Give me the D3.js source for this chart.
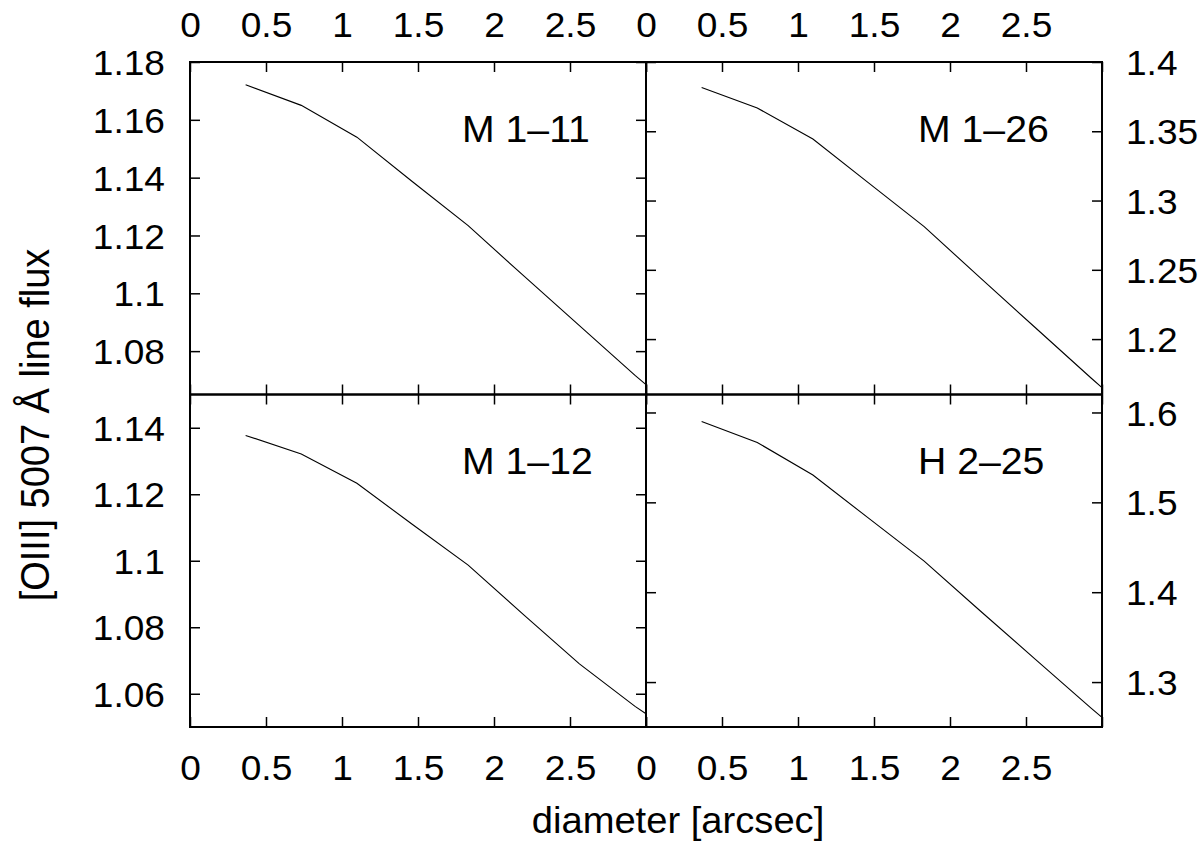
<!DOCTYPE html>
<html>
<head>
<meta charset="utf-8">
<script src="https://cdn.jsdelivr.net/npm/d3@7"></script>
<style>
  body { margin: 0; background: #fff; }
  svg { display: block; }
</style>
</head>
<body>
<div id="chart"></div>
<script>
// diameter values (arcsec) shared by all four objects
var diam = [0.366, 0.732, 1.098, 1.464, 1.830, 2.196, 2.562, 2.928, 3.0];

// [OIII] 5007 line flux, one array per object
var fluxM111 = [1.1721, 1.1650, 1.1540, 1.1386, 1.1234, 1.1060, 1.0888, 1.0716, 1.0684];
var fluxM126 = [1.3816, 1.3668, 1.3444, 1.3128, 1.2812, 1.2445, 1.2082, 1.1719, 1.1649];
var fluxM112 = [1.1377, 1.1321, 1.1233, 1.1109, 1.0987, 1.0837, 1.0690, 1.0562, 1.0540];
var fluxH225 = [1.5900, 1.5666, 1.5304, 1.4824, 1.4346, 1.3796, 1.3253, 1.2711, 1.2607];

var names = ["M 1\u201311", "M 1\u201326", "M 1\u201312", "H 2\u201325"];

// tick values
var xTicks = [0, 0.5, 1, 1.5, 2, 2.5, 3];
var yTicksM111 = [1.08, 1.1, 1.12, 1.14, 1.16, 1.18];
var yTicksM126 = [1.2, 1.25, 1.3, 1.35, 1.4];
var yTicksM112 = [1.06, 1.08, 1.1, 1.12, 1.14];
var yTicksH225 = [1.3, 1.4, 1.5, 1.6];

// y ranges of each panel
var yDomM111 = [1.065, 1.18];
var yDomM126 = [1.16, 1.4];
var yDomM112 = [1.05, 1.15];
var yDomH225 = [1.25, 1.62];

var width = 1200, height = 850;
var FONT = "'Liberation Sans', Arial, Helvetica, sans-serif";
var SX = 1.06;   // slight horizontal stretch of the lettering

var L = 190, Mx = 646, R = 1102, T = 62, My = 394.5, B = 727;

var panels = [
    {name: names[0], vals: fluxM111, dom: yDomM111, ticks: yTicksM111, x0: L, x1: Mx, y0: T, y1: My, side: "left", pos: "top"},
    {name: names[1], vals: fluxM126, dom: yDomM126, ticks: yTicksM126, x0: Mx, x1: R, y0: T, y1: My, side: "right", pos: "top"},
    {name: names[2], vals: fluxM112, dom: yDomM112, ticks: yTicksM112, x0: L, x1: Mx, y0: My, y1: B, side: "left", pos: "bottom"},
    {name: names[3], vals: fluxH225, dom: yDomH225, ticks: yTicksH225, x0: Mx, x1: R, y0: My, y1: B, side: "right", pos: "bottom"}
];

var svg = d3.select("#chart").append("svg")
    .attr("width", width)
    .attr("height", height)
    .style("font-family", FONT);

function styleAxis(g, fontSize) {
    g.attr("font-family", FONT).attr("font-size", fontSize);
    g.select(".domain").remove();
    g.selectAll(".tick line").attr("stroke", "#000").attr("stroke-width", 1.5);
    g.selectAll(".tick text").attr("fill", "#000");
}

var fmtX = function(d) { return d === 3 ? "" : String(d); };
var blank = function() { return ""; };

panels.forEach(function(p) {
    var x = d3.scaleLinear().domain([0, 3]).range([p.x0, p.x1]);
    var y = d3.scaleLinear().domain(p.dom).range([p.y1, p.y0]);

    // top ticks
    var gTop = svg.append("g")
        .attr("transform", "translate(0," + p.y0 + ")")
        .call(d3.axisTop(x).tickValues(xTicks).tickSize(-10).tickSizeOuter(0).tickPadding(25)
            .tickFormat(p.pos === "top" ? fmtX : blank));
    styleAxis(gTop, 35);
    gTop.selectAll(".tick text").attr("transform", "scale(" + SX + ",1)");

    // bottom ticks
    var gBot = svg.append("g")
        .attr("transform", "translate(0," + p.y1 + ")")
        .call(d3.axisBottom(x).tickValues(xTicks).tickSize(-10).tickSizeOuter(0).tickPadding(28)
            .tickFormat(p.pos === "bottom" ? fmtX : blank));
    styleAxis(gBot, 35);
    gBot.selectAll(".tick text").attr("transform", "scale(" + SX + ",1)");

    // left ticks
    var gLeft = svg.append("g")
        .attr("transform", "translate(" + p.x0 + ",0)")
        .call(d3.axisLeft(y).tickValues(p.ticks).tickSize(-10).tickSizeOuter(0).tickPadding(25)
            .tickFormat(p.side === "left" ? String : blank));
    styleAxis(gLeft, 35);
    gLeft.selectAll(".tick text")
        .attr("x", -25 / SX)
        .attr("dy", "0.36em")
        .attr("transform", "scale(" + SX + ",1)");

    // right ticks
    var gRight = svg.append("g")
        .attr("transform", "translate(" + p.x1 + ",0)")
        .call(d3.axisRight(y).tickValues(p.ticks).tickSize(-10).tickSizeOuter(0).tickPadding(26)
            .tickFormat(p.side === "right" ? String : blank));
    styleAxis(gRight, 35);
    gRight.selectAll(".tick text")
        .attr("x", 24 / SX)
        .attr("dy", "0.36em")
        .attr("transform", "scale(" + SX + ",1)");

    // the curve
    var line = d3.line()
        .x(function(d, i) { return x(diam[i]); })
        .y(function(d) { return y(d); });

    svg.append("path")
        .datum(p.vals)
        .attr("d", line)
        .attr("fill", "none")
        .attr("stroke", "#000")
        .attr("stroke-width", 1.1);

    // object name
    svg.append("text")
        .attr("transform", "translate(" + (p.x0 + 272) + "," + (p.y0 + 79.5) + ") scale(" + SX + ",1)")
        .attr("font-size", 37)
        .attr("fill", "#000")
        .text(p.name);

    // frame
    svg.append("rect")
        .attr("x", p.x0)
        .attr("y", p.y0)
        .attr("width", p.x1 - p.x0)
        .attr("height", p.y1 - p.y0)
        .attr("fill", "none")
        .attr("stroke", "#000")
        .attr("stroke-width", 2);
});

// axis titles
svg.append("text")
    .attr("transform", "translate(678,833) scale(" + SX + ",1)")
    .attr("text-anchor", "middle")
    .attr("font-size", 36)
    .attr("fill", "#000")
    .text("diameter [arcsec]");

svg.append("text")
    .attr("transform", "translate(49,425) scale(" + SX + ",1) rotate(-90)")
    .attr("text-anchor", "middle")
    .attr("font-size", 38)
    .attr("fill", "#000")
    .text("[OIII] 5007 \u00c5 line flux");
</script>
</body>
</html>
